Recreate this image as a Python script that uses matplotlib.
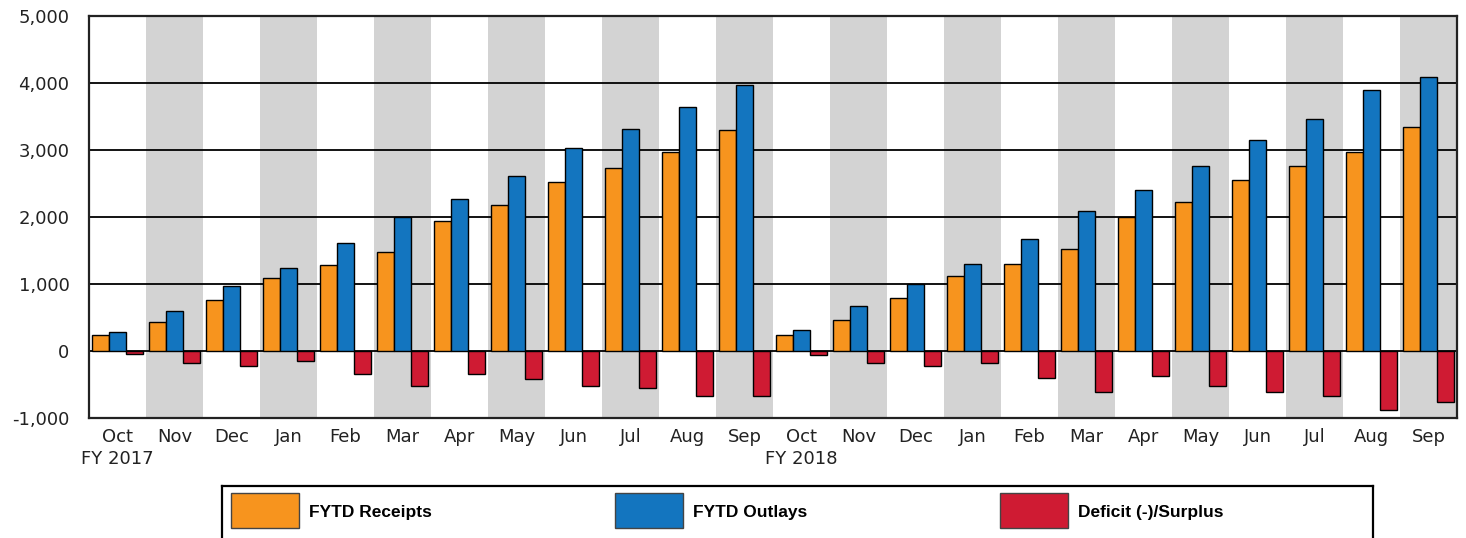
import numpy as np
import matplotlib.pyplot as plt
from matplotlib.patches import Rectangle

months = ['Oct', 'Nov', 'Dec', 'Jan', 'Feb', 'Mar',
          'Apr', 'May', 'Jun', 'Jul', 'Aug', 'Sep'] * 2
fiscal_years = ['FY 2017', 'FY 2018']

receipts = [239, 433, 757, 1090, 1279, 1484, 1946, 2179, 2517, 2727, 2975, 3304,
            239, 458, 786, 1124, 1303, 1522, 2000, 2219, 2547, 2761, 2970, 3343]
outlays = [279, 603, 970, 1245, 1607, 2000, 2274, 2607, 3035, 3309, 3642, 3976,
           308, 672, 1005, 1303, 1672, 2095, 2398, 2766, 3154, 3463, 3891, 4095]
deficit = [-40, -179, -218, -154, -338, -522, -338, -423, -522, -552, -672, -672,
           -65, -184, -219, -184, -398, -612, -368, -522, -612, -672, -881, -761]

series_names = ['FYTD Receipts', 'FYTD Outlays', 'Deficit (-)/Surplus']
COLORS = ['#F7941E', '#1375BF', '#CF1B33']

W, H = 1466, 538
fig = plt.figure(figsize=(W / 100, H / 100), dpi=100)
ax = fig.add_axes([89 / W, 1 - 418 / H, (1457 - 89) / W, (418 - 16) / H])

ind = np.arange(len(months))
width = 0.3

# alternating gray bands
for i in ind:
    if i % 2 == 1:
        ax.axvspan(i - 0.5, i + 0.5, color='#D3D3D3', lw=0, zorder=0)

for v in range(-1000, 5001, 1000):
    ax.axhline(v, color='black', lw=1.3, zorder=1)

for k, vals in enumerate([receipts, outlays, deficit]):
    ax.bar(ind + (k - 1) * width, vals, width, color=COLORS[k],
           edgecolor='black', lw=1, zorder=3)

ax.set_xlim(-0.5, len(months) - 0.5)
ax.set_ylim(-1000, 5000)
ax.set_yticks(range(-1000, 5001, 1000))
ax.set_yticklabels(['{:,}'.format(v) for v in range(-1000, 5001, 1000)])

labels = list(months)
labels[0] = months[0] + '\n' + fiscal_years[0]
labels[12] = months[12] + '\n' + fiscal_years[1]
ax.set_xticks(ind)
ax.set_xticklabels(labels, linespacing=1.3)
ax.tick_params(axis='both', length=0, labelsize=13, colors='#222222')
ax.tick_params(axis='y', pad=14)
ax.tick_params(axis='x', pad=7)
for s in ax.spines.values():
    s.set_linewidth(1.6)
    s.set_color('#222222')

# legend box, drawn by hand to match the fixed entry spacing
lax = fig.add_axes([222 / W, -10 / H, (1373 - 222) / W, (538 - 486 + 10) / H])
lax.set_xlim(222, 1373)
lax.set_ylim(538 + 10, 486)
lax.set_xticks([])
lax.set_yticks([])
for s in lax.spines.values():
    s.set_linewidth(1.6)
    s.set_color('black')
for x0, name, c in zip([231, 615, 1000], series_names, COLORS):
    lax.add_patch(Rectangle((x0, 493), 68, 35, facecolor=c, edgecolor='#444444', lw=1))
    lax.text(x0 + 78, 512, name, va='center', ha='left', fontsize=12.5, fontweight='bold',
             family=['Liberation Sans Narrow', 'Liberation Sans', 'DejaVu Sans'])

fig.savefig('out.png', dpi=100)
